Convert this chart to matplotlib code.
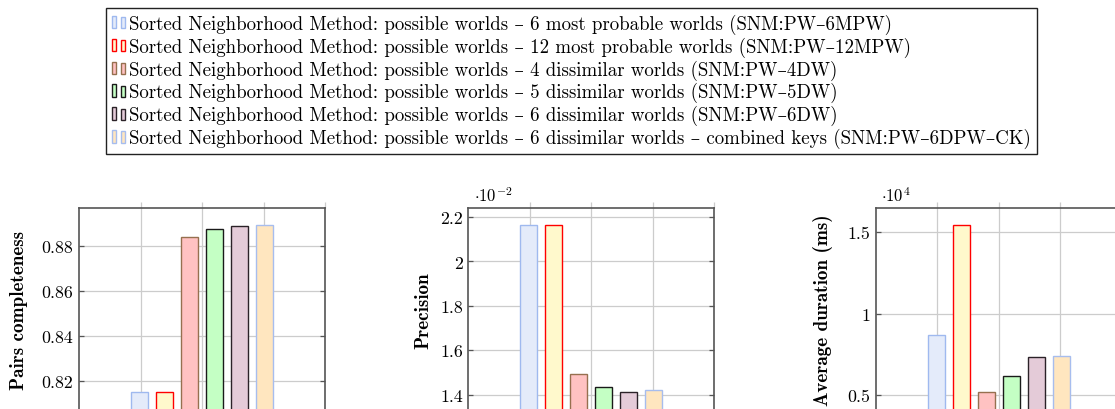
import matplotlib
matplotlib.use('Agg')
import matplotlib.pyplot as plt
import numpy as np
from matplotlib.patches import Rectangle, Patch
from matplotlib.legend_handler import HandlerBase

plt.rcParams['font.family'] = ['cmr10', 'DejaVu Serif']
plt.rcParams['mathtext.fontset'] = 'cm'
plt.rcParams['axes.unicode_minus'] = False

# methods (legend order = bar order)
labels = [
    'Sorted Neighborhood Method: possible worlds – 6 most probable worlds (SNM:PW–6MPW)',
    'Sorted Neighborhood Method: possible worlds – 12 most probable worlds (SNM:PW–12MPW)',
    'Sorted Neighborhood Method: possible worlds – 4 dissimilar worlds (SNM:PW–4DW)',
    'Sorted Neighborhood Method: possible worlds – 5 dissimilar worlds (SNM:PW–5DW)',
    'Sorted Neighborhood Method: possible worlds – 6 dissimilar worlds (SNM:PW–6DW)',
    'Sorted Neighborhood Method: possible worlds – 6 dissimilar worlds – combined keys (SNM:PW–6DPW–CK)',
]
fills = ['#e4ebfa', '#fff9cc', '#ffc2c2', '#c4ffc4', '#e4cbd8', '#ffe6bf']
edges = ['#9fb9ef', '#ff0000', '#96704f', '#1a1a1a', '#2b2228', '#a7bdee']

pairs_completeness = [0.8151, 0.8151, 0.8843, 0.8876, 0.8889, 0.8893]
precision = [0.02164, 0.02164, 0.01492, 0.01435, 0.01411, 0.01420]
duration_ms = [8680, 15430, 5180, 6190, 7360, 7400]

pc_ticks = [0.82, 0.84, 0.86, 0.88]
pc_ticklabels = ['0.82', '0.84', '0.86', '0.88']
pr_ticks = [1.4, 1.6, 1.8, 2.0, 2.2]
pr_ticklabels = ['1.4', '1.6', '1.8', '2', '2.2']
du_ticks = [0.5, 1.0, 1.5]
du_ticklabels = ['0.5', '1', '1.5']

W, H = 1115, 410
fig = plt.figure(figsize=(W / 100, H / 100), dpi=100)

panels = [
    # values, exponent, ylabel, ylim, ticks, ticklabels, left px, label x
    (pairs_completeness, 0, 'Pairs completeness', (0.8068, 0.8970), pc_ticks, pc_ticklabels, 79, -0.207),
    (precision, -2, 'Precision', (1.3265, 2.2406), pr_ticks, pr_ticklabels, 468.3, -0.148),
    (duration_ms, 4, 'Average duration (ms)', (0.4016, 1.6476), du_ticks, du_ticklabels, 875.7, -0.174),
]

top_px, bot_px, width_px = 209, 412, 246
offsets = (np.arange(len(labels)) - 2.5) * 0.4065

for vals, exp, ylab, ylim, ticks, tlabels, left, labx in panels:
    ax = fig.add_axes([left / W, (H - bot_px) / H, width_px / W, (bot_px - top_px) / H])
    scaled = np.array(vals) / 10.0 ** exp
    ax.bar(offsets, scaled, width=0.276, color=fills, edgecolor=edges, linewidth=1.0, zorder=3)
    ax.set_xlim(-2, 2)
    ax.set_ylim(*ylim)
    ax.set_xticks([-1, 0, 1, 2])
    ax.set_yticks(ticks)
    ax.set_yticklabels(tlabels)
    ax.grid(True, color='#cccccc', linewidth=0.9, zorder=0)
    ax.set_axisbelow(True)
    ax.tick_params(axis='x', which='both', bottom=False, top=True, labelbottom=False,
                   direction='out', length=4.5, color='#cccccc', width=0.9)
    ax.tick_params(axis='y', left=True, right=True, direction='in', length=3.5,
                   color='#555555', width=0.9, labelsize=12.8, pad=4)
    for s in ax.spines.values():
        s.set_color('#555555')
        s.set_linewidth(1.2)
    ax.set_ylabel(ylab, fontfamily='cmb10', fontsize=13.8)
    ax.yaxis.set_label_coords(labx, 0.5)
    if exp != 0:
        ax.annotate(r'$\cdot10^{%d}$' % exp, xy=(0, 1), xycoords='axes fraction',
                    xytext=(4, 3), textcoords='offset points', ha='left', va='bottom',
                    fontsize=12)


class PairHandler(HandlerBase):
    # pgfplots ybar legend image: two small bars
    def create_artists(self, legend, orig_handle, xdescent, ydescent, width, height, fontsize, trans):
        fc = orig_handle.get_facecolor()
        ec = orig_handle.get_edgecolor()
        bw = width * 0.33
        r1 = Rectangle((-xdescent, -ydescent), bw, height, facecolor=fc, edgecolor=ec,
                       linewidth=1.0, transform=trans)
        r2 = Rectangle((-xdescent + width - bw, -ydescent), bw, height * 0.9, facecolor=fc,
                       edgecolor=ec, linewidth=1.0, transform=trans)
        return [r1, r2]


handles = [Patch(facecolor=f, edgecolor=e) for f, e in zip(fills, edges)]
leg = fig.legend(handles, labels, loc='upper left', bbox_to_anchor=(106 / W, 1 - 9 / H),
                 frameon=True, fancybox=False, edgecolor='#222222', framealpha=1,
                 fontsize=13.6, handlelength=0.72, handleheight=0.65, handletextpad=0.22,
                 borderpad=0.3, labelspacing=0.14, borderaxespad=0,
                 handler_map={Patch: PairHandler()})
leg.get_frame().set_linewidth(1.0)

fig.savefig('out.png', dpi=100)
